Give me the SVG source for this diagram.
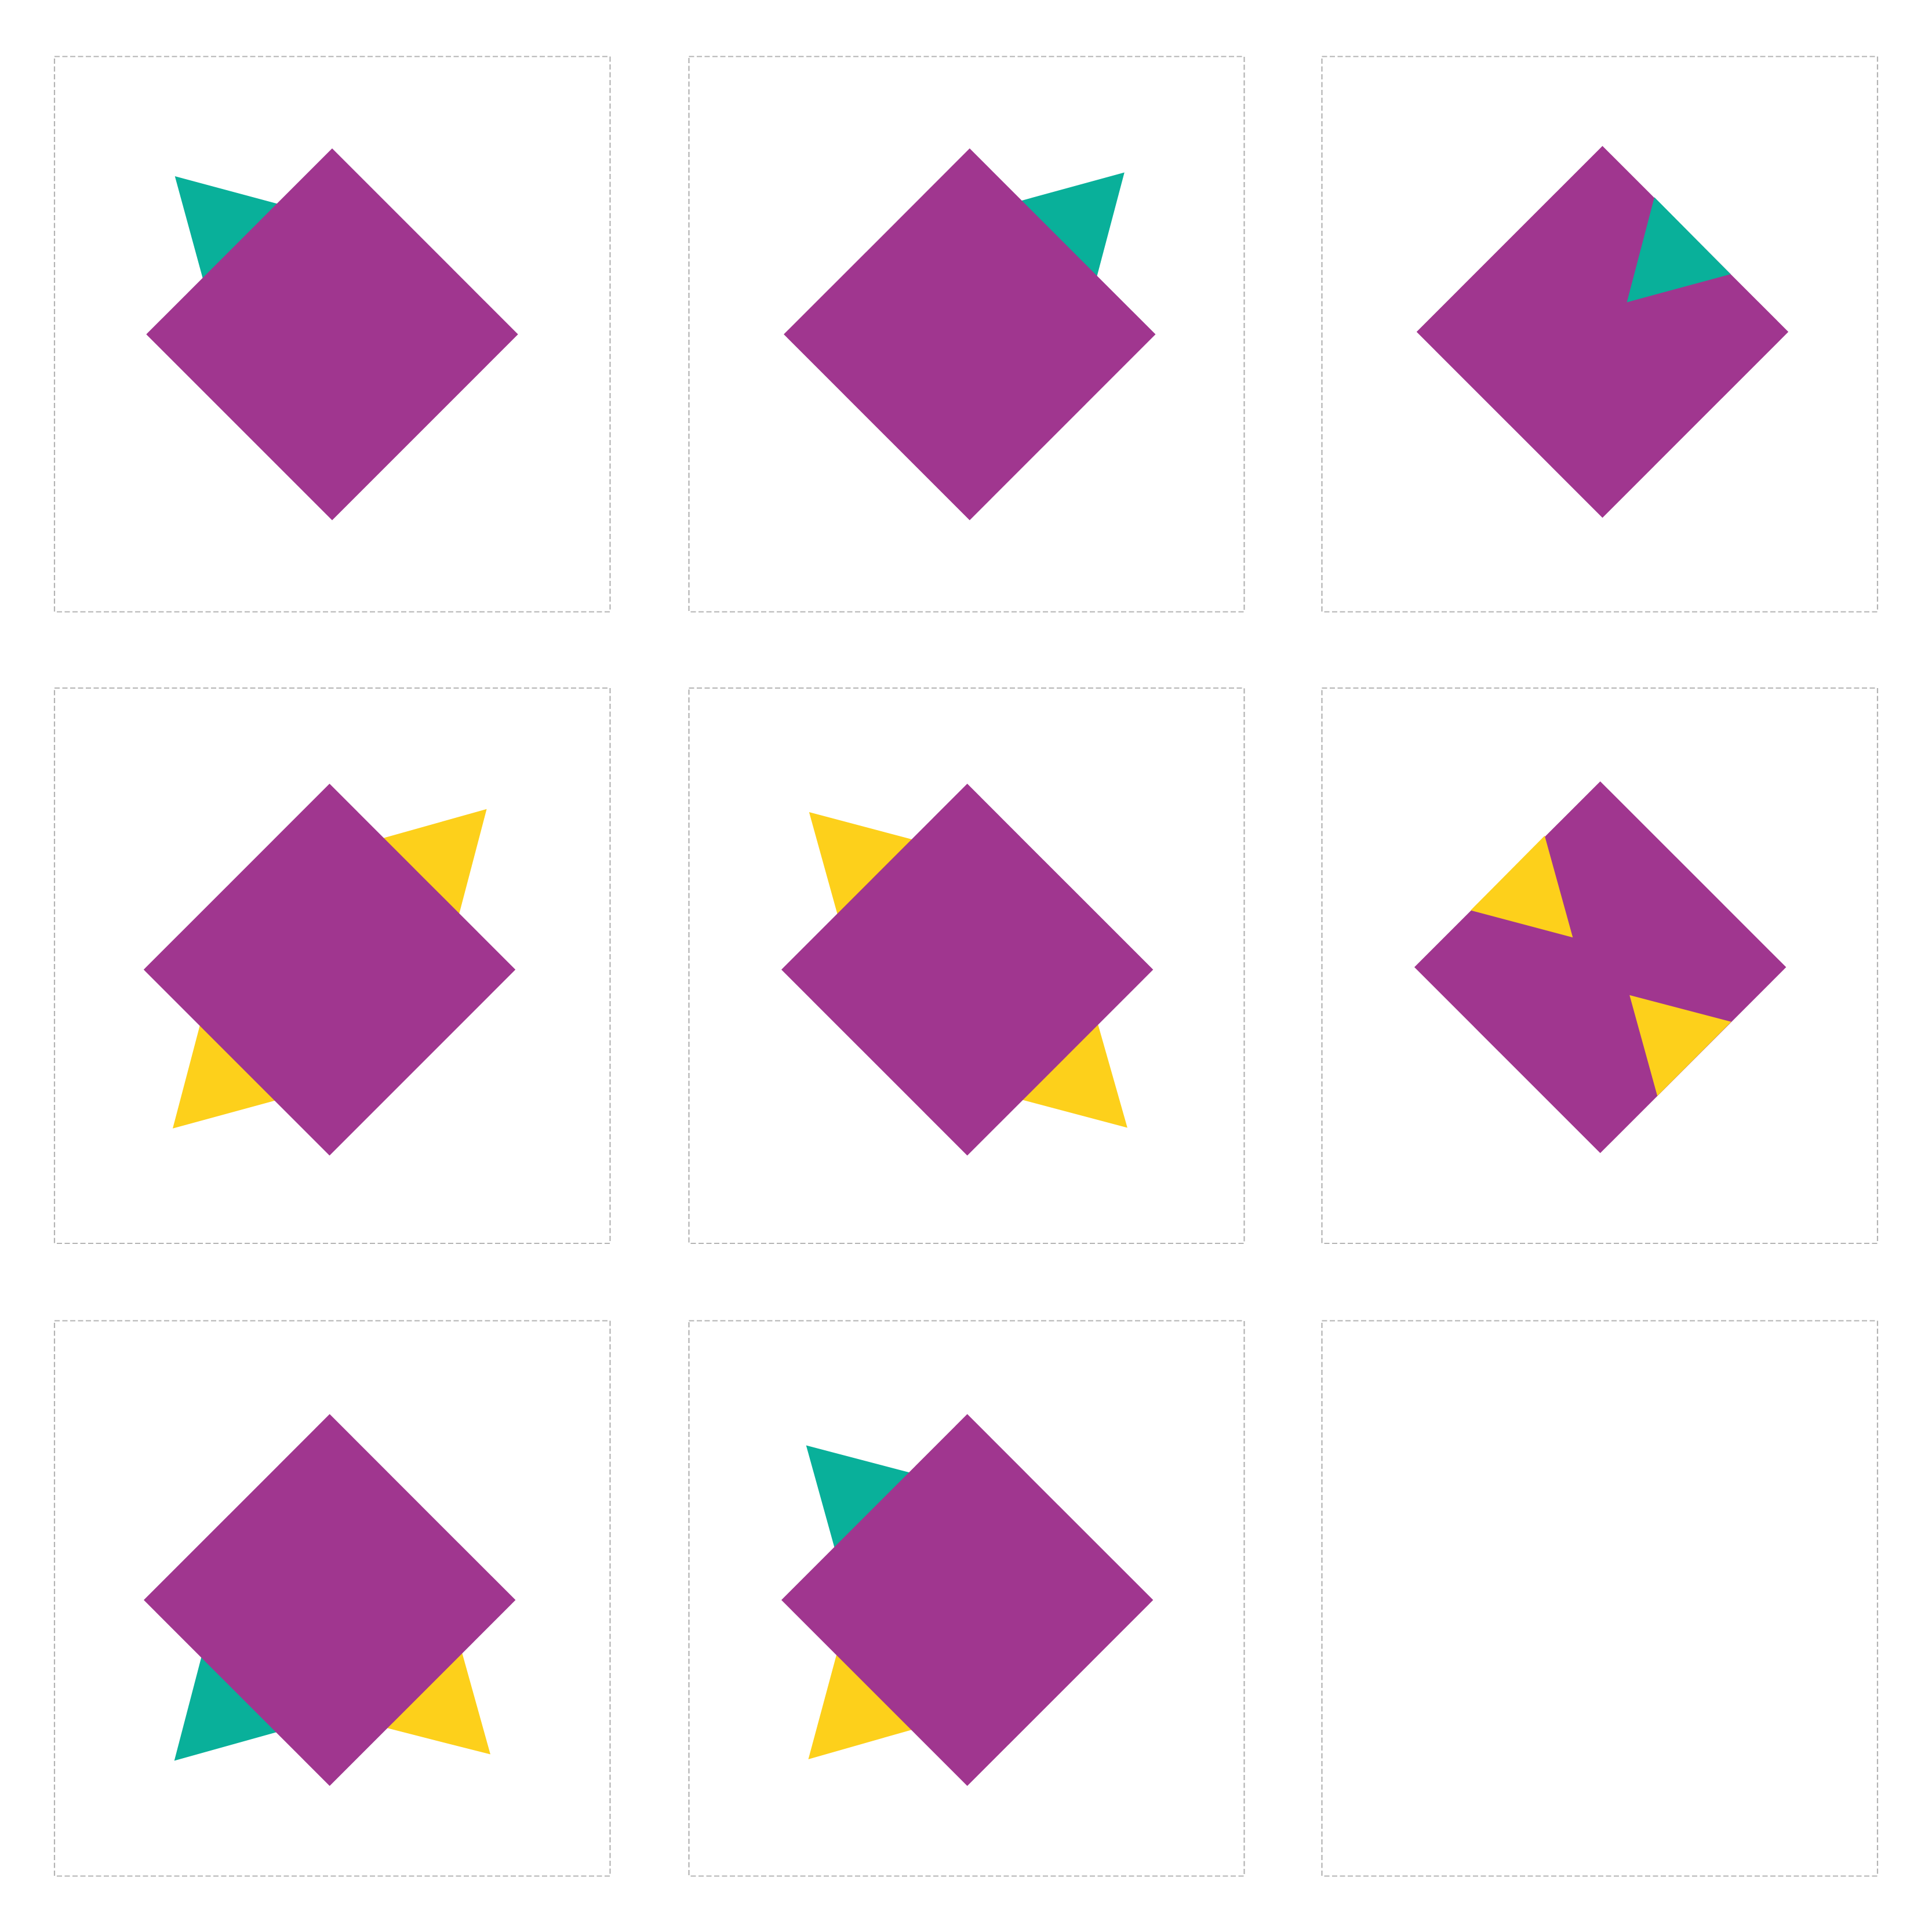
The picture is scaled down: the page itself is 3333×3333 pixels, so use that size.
<svg xmlns="http://www.w3.org/2000/svg" width="3333" height="3333" viewBox="0 0 3333 3333">
<style>
.box{fill:none;stroke:#b3b3b3;stroke-width:2.2;stroke-dasharray:9 4.5}
.dia{fill:#a0368f}
.teal{fill:#09b09a}
.yel{fill:#fdd01b}
</style>
<rect width="3333" height="3333" fill="#ffffff"/>
<g id="frames">
<rect class="box" x="94" y="97.5" width="958.5" height="958"/>
<rect class="box" x="1188.5" y="97.5" width="958" height="958"/>
<rect class="box" x="2280.5" y="97.5" width="958.5" height="958"/>
<rect class="box" x="94" y="1187" width="958.5" height="958"/>
<rect class="box" x="1188.5" y="1187" width="958" height="958"/>
<rect class="box" x="2280.5" y="1187" width="958.5" height="958"/>
<rect class="box" x="94" y="2278.5" width="958.5" height="958"/>
<rect class="box" x="1188.5" y="2278.5" width="958" height="958"/>
<rect class="box" x="2280.5" y="2278.5" width="958.5" height="958"/>
</g>
<g id="panel1">
<polygon class="teal" points="301.7,304 504.6,358.6 356.7,505.4"/>
<polygon class="dia" points="573,256.1 893.7,576.8 573,897.5 252.3,576.8"/>
</g>
<g id="panel2">
<polygon class="teal" points="1939.8,297.5 1736.6,353.2 1885.5,502.8"/>
<polygon class="dia" points="1672.8,256.1 1993.5,576.8 1672.8,897.5 1352.1,576.8"/>
</g>
<g id="panel3">
<polygon class="dia" points="2764.5,251.8 3085.2,572.5 2764.5,893.2 2443.8,572.5"/>
<polygon class="teal" points="2854.1,340.3 2985.7,473 2806.6,521.4"/>
</g>
<g id="panel4">
<polygon class="yel" points="839.6,1395.8 635.7,1453 785.3,1602.6"/>
<polygon class="yel" points="298,1946.8 351.7,1742.9 499.8,1891.8"/>
<polygon class="dia" points="568.5,1352.1 889.2,1672.8 568.5,1993.5 247.8,1672.8"/>
</g>
<g id="panel5">
<polygon class="yel" points="1395.8,1400.9 1599.6,1455.1 1451.5,1601.8"/>
<polygon class="yel" points="1944.9,1945.5 1886.9,1741.6 1737.3,1890.5"/>
<polygon class="dia" points="1668.7,1352.1 1989.4,1672.8 1668.7,1993.5 1348,1672.8"/>
</g>
<g id="panel6">
<polygon class="dia" points="2760.7,1347.9 3081.4,1668.6 2760.7,1989.3 2440,1668.6"/>
<polygon class="yel" points="2664.8,1441.8 2537.2,1570.4 2713.3,1617.3"/>
<polygon class="yel" points="2811.2,1716.8 2986.7,1762.8 2859.2,1890.8"/>
</g>
<g id="panel7">
<polygon class="teal" points="300.7,3037.4 354.2,2832.8 503.1,2980.9"/>
<polygon class="yel" points="846,3026.6 790.2,2826.4 642,2974.5"/>
<polygon class="dia" points="568.7,2439.6 889.4,2760.3 568.7,3081 248,2760.3"/>
</g>
<g id="panel8">
<polygon class="teal" points="1390.7,2493.4 1594.6,2547 1446.4,2694.4"/>
<polygon class="yel" points="1394.5,3034.9 1450.3,2828 1598.4,2976.9"/>
<polygon class="dia" points="1668.7,2439.6 1989.4,2760.3 1668.7,3081 1348,2760.3"/>
</g>
<g id="panel9"></g>
</svg>
